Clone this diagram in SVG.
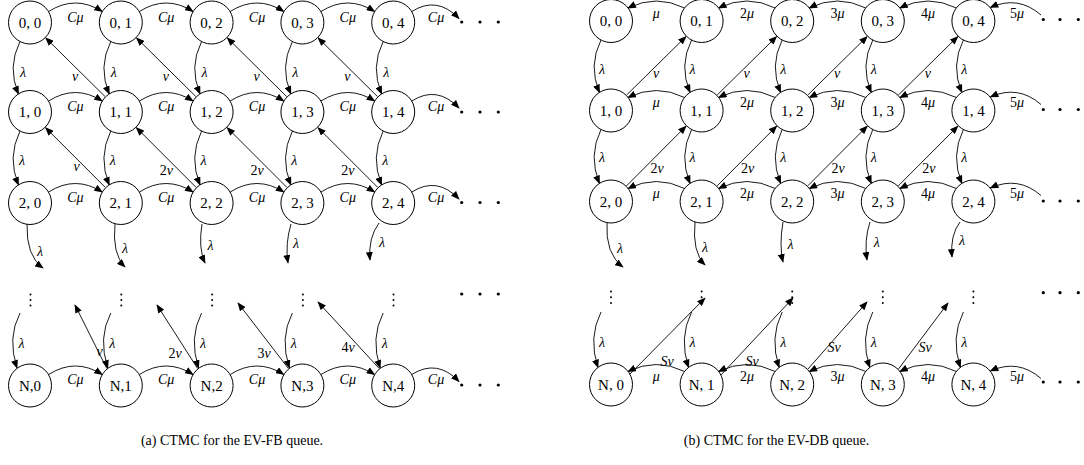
<svg xmlns="http://www.w3.org/2000/svg" width="1084" height="465" viewBox="0 0 1084 465">
<defs>
<marker id="ah" viewBox="0 0 10 8" refX="9" refY="4" markerWidth="9" markerHeight="7" markerUnits="userSpaceOnUse" orient="auto"><path d="M0,0 L10,4 L0,8 z" fill="#000"/></marker>
<style>
.n circle{fill:#fff;stroke:#000;stroke-width:1}
.n text{font-family:"Liberation Serif",serif;font-size:15px;text-anchor:middle;fill:#000}
.e path{fill:none;stroke:#000;stroke-width:0.9;marker-end:url(#ah)}
.e text{font-family:"Liberation Serif",serif;font-size:14px;font-style:italic;text-anchor:middle;fill:#000}
.e tspan.u{font-style:normal}
.dots circle{fill:#000}
.cap{font-family:"Liberation Serif",serif;font-size:14px;text-anchor:middle;fill:#000}
</style>
</defs>
<rect width="1084" height="465" fill="#fff"/>

<!-- connectors -->
<g id="connectors" class="e">
<!-- LEFT horizontal -->
<path d="M48.6,11.5 Q75.4,-5.5 102.2,11.5"/><path d="M139.4,11.5 Q166.2,-5.5 193,11.5"/><path d="M230.2,11.5 Q257,-5.5 283.8,11.5"/><path d="M321,11.5 Q347.8,-5.5 374.6,11.5"/><path d="M411.8,11.5 Q437,-4.5 459,18.5"/>
<path d="M48.6,101 Q75.4,84 102.2,101"/><path d="M139.4,101 Q166.2,84 193,101"/><path d="M230.2,101 Q257,84 283.8,101"/><path d="M321,101 Q347.8,84 374.6,101"/><path d="M411.8,101 Q437,85 459,108"/>
<path d="M48.6,192 Q75.4,175 102.2,192"/><path d="M139.4,192 Q166.2,175 193,192"/><path d="M230.2,192 Q257,175 283.8,192"/><path d="M321,192 Q347.8,175 374.6,192"/><path d="M411.8,192 Q437,176 459,199"/>
<path d="M48.6,374.5 Q75.4,357.5 102.2,374.5"/><path d="M139.4,374.5 Q166.2,357.5 193,374.5"/><path d="M230.2,374.5 Q257,357.5 283.8,374.5"/><path d="M321,374.5 Q347.8,357.5 374.6,374.5"/><path d="M411.8,374.5 Q437,358.5 459,381.5"/>
<text x="75.4" y="21.5">Cμ</text><text x="166.2" y="21.5">Cμ</text><text x="257" y="21.5">Cμ</text><text x="347.8" y="21.5">Cμ</text><text x="436" y="21.5">Cμ</text>
<text x="75.4" y="111">Cμ</text><text x="166.2" y="111">Cμ</text><text x="257" y="111">Cμ</text><text x="347.8" y="111">Cμ</text><text x="436" y="111">Cμ</text>
<text x="75.4" y="202">Cμ</text><text x="166.2" y="202">Cμ</text><text x="257" y="202">Cμ</text><text x="347.8" y="202">Cμ</text><text x="436" y="202">Cμ</text>
<text x="75.4" y="384">Cμ</text><text x="166.2" y="384">Cμ</text><text x="257" y="384">Cμ</text><text x="347.8" y="384">Cμ</text><text x="436" y="384">Cμ</text>
<!-- LEFT vertical lambda -->
<path d="M20,41.5 Q7,67.25 18.5,94"/><path d="M110.8,41.5 Q97.8,67.25 109.3,94"/><path d="M201.6,41.5 Q188.6,67.25 200.1,94"/><path d="M292.4,41.5 Q279.4,67.25 290.9,94"/><path d="M383.2,41.5 Q370.2,67.25 381.7,94"/>
<path d="M20,131 Q7,157.5 18.5,185"/><path d="M110.8,131 Q97.8,157.5 109.3,185"/><path d="M201.6,131 Q188.6,157.5 200.1,185"/><path d="M292.4,131 Q279.4,157.5 290.9,185"/><path d="M383.2,131 Q370.2,157.5 381.7,185"/>
<text x="23" y="76.5">λ</text><text x="113.8" y="76.5">λ</text><text x="204.6" y="76.5">λ</text><text x="295.4" y="76.5">λ</text><text x="386.2" y="76.5">λ</text>
<text x="22" y="165">λ</text><text x="112.8" y="165">λ</text><text x="203.6" y="165">λ</text><text x="294.4" y="165">λ</text><text x="385.2" y="165">λ</text>
<path d="M27,224 Q26,256 43,268"/><path d="M115,224 Q112,254 125,267"/><path d="M202,224 Q198,248 205,263"/><path d="M291,224 Q285,244 288,263"/><path d="M379,223 Q368,238 370,260"/>
<text x="40" y="256">λ</text><text x="125" y="253">λ</text><text x="210.5" y="250">λ</text><text x="296" y="248">λ</text><text x="382" y="246.5">λ</text>
<path d="M20,313 Q7,338 17,368"/><path d="M110.8,313 Q97.8,338 107.8,368"/><path d="M201.6,313 Q188.6,338 198.6,368"/><path d="M292.4,313 Q279.4,338 289.4,368"/><path d="M383.2,313 Q370.2,338 380.2,368"/>
<text x="21.5" y="348">λ</text><text x="112.3" y="348">λ</text><text x="203.1" y="348">λ</text><text x="293.9" y="348">λ</text><text x="384.7" y="348">λ</text>
<!-- LEFT diagonals -->
<path d="M105.1,96.6 L45.7,37.9"/><path d="M195.9,96.6 L136.5,37.9"/><path d="M286.7,96.6 L227.3,37.9"/><path d="M377.5,96.6 L318.1,37.9"/>
<text x="75" y="81">ν</text><text x="165.8" y="81">ν</text><text x="256.6" y="81">ν</text><text x="347.4" y="81">ν</text>
<path d="M105.3,187.4 L45.5,127.6"/><path d="M196.1,187.4 L136.3,127.6"/><path d="M286.9,187.4 L227.1,127.6"/><path d="M377.7,187.4 L317.9,127.6"/>
<text x="76.7" y="170.7">ν</text><text x="166.3" y="175"><tspan class="u">2</tspan>ν</text><text x="257.1" y="175"><tspan class="u">2</tspan>ν</text><text x="347.9" y="175"><tspan class="u">2</tspan>ν</text>
<path d="M106.8,368.5 L75,305"/><path d="M197.6,368.5 L157,305"/><path d="M288.4,368.5 L238,303"/><path d="M379.2,368.5 L318,302"/>
<text x="99.5" y="356">ν</text><text x="175" y="358"><tspan class="u">2</tspan>ν</text><text x="264" y="358"><tspan class="u">3</tspan>ν</text><text x="348" y="351.7"><tspan class="u">4</tspan>ν</text>

<!-- RIGHT horizontal (leftward) -->
<path d="M684.6,8 Q656.3,-6 628,8"/><path d="M775.2,8 Q746.9,-6 718.6,8"/><path d="M865.8,8 Q837.5,-6 809.2,8"/><path d="M956.4,8 Q928.1,-6 899.8,8"/><path d="M1041,15 Q1018,-5 990.4,7.5"/>
<path d="M684.6,97.5 Q656.3,83.5 628,97.5"/><path d="M775.2,97.5 Q746.9,83.5 718.6,97.5"/><path d="M865.8,97.5 Q837.5,83.5 809.2,97.5"/><path d="M956.4,97.5 Q928.1,83.5 899.8,97.5"/><path d="M1041,104.5 Q1018,84.5 990.4,97"/>
<path d="M684.6,188.5 Q656.3,174.5 628,188.5"/><path d="M775.2,188.5 Q746.9,174.5 718.6,188.5"/><path d="M865.8,188.5 Q837.5,174.5 809.2,188.5"/><path d="M956.4,188.5 Q928.1,174.5 899.8,188.5"/><path d="M1041,195.5 Q1018,175.5 990.4,188"/>
<path d="M684.6,371.5 Q656.3,357.5 628,371.5"/><path d="M775.2,371.5 Q746.9,357.5 718.6,371.5"/><path d="M865.8,371.5 Q837.5,357.5 809.2,371.5"/><path d="M956.4,371.5 Q928.1,357.5 899.8,371.5"/><path d="M1041,378.5 Q1018,358.5 990.4,371"/>
<text x="656.3" y="17.5">μ</text><text x="746.9" y="17.5"><tspan class="u">2</tspan>μ</text><text x="837.5" y="17.5"><tspan class="u">3</tspan>μ</text><text x="928.1" y="17.5"><tspan class="u">4</tspan>μ</text><text x="1017" y="17.5"><tspan class="u">5</tspan>μ</text>
<text x="656.3" y="107">μ</text><text x="746.9" y="107"><tspan class="u">2</tspan>μ</text><text x="837.5" y="107"><tspan class="u">3</tspan>μ</text><text x="928.1" y="107"><tspan class="u">4</tspan>μ</text><text x="1017" y="107"><tspan class="u">5</tspan>μ</text>
<text x="656.3" y="198">μ</text><text x="746.9" y="198"><tspan class="u">2</tspan>μ</text><text x="837.5" y="198"><tspan class="u">3</tspan>μ</text><text x="928.1" y="198"><tspan class="u">4</tspan>μ</text><text x="1017" y="198"><tspan class="u">5</tspan>μ</text>
<text x="656.3" y="381">μ</text><text x="746.9" y="381"><tspan class="u">2</tspan>μ</text><text x="837.5" y="381"><tspan class="u">3</tspan>μ</text><text x="928.1" y="381"><tspan class="u">4</tspan>μ</text><text x="1017" y="381"><tspan class="u">5</tspan>μ</text>
<!-- RIGHT vertical lambda -->
<path d="M601,40 Q588,65.75 599.5,92.5"/><path d="M691.6,40 Q678.6,65.75 690.1,92.5"/><path d="M782.2,40 Q769.2,65.75 780.7,92.5"/><path d="M872.8,40 Q859.8,65.75 871.3,92.5"/><path d="M963.4,40 Q950.4,65.75 961.9,92.5"/>
<path d="M601,129.5 Q588,156 599.5,183.5"/><path d="M691.6,129.5 Q678.6,156 690.1,183.5"/><path d="M782.2,129.5 Q769.2,156 780.7,183.5"/><path d="M872.8,129.5 Q859.8,156 871.3,183.5"/><path d="M963.4,129.5 Q950.4,156 961.9,183.5"/>
<text x="602" y="74">λ</text><text x="692.6" y="74">λ</text><text x="783.2" y="74">λ</text><text x="873.8" y="74">λ</text><text x="964.4" y="74">λ</text>
<text x="602" y="162">λ</text><text x="692.6" y="162">λ</text><text x="783.2" y="162">λ</text><text x="873.8" y="162">λ</text><text x="964.4" y="162">λ</text>
<path d="M607,222 Q605,254 623,267"/><path d="M695,222 Q692,252 705,265"/><path d="M783,222 Q779,245 783,262"/><path d="M870,222 Q864,240 867,260"/><path d="M960,222 Q950,235 952,257"/>
<text x="620" y="253">λ</text><text x="705" y="251.7">λ</text><text x="790.5" y="249">λ</text><text x="876.7" y="247">λ</text><text x="962" y="245">λ</text>
<path d="M601,312 Q588,338 598,367.5"/><path d="M691.6,312 Q678.6,338 688.6,367.5"/><path d="M782.2,312 Q769.2,338 779.2,367.5"/><path d="M872.8,312 Q859.8,338 869.8,367.5"/><path d="M963.4,312 Q950.4,338 960.4,367.5"/>
<text x="602" y="347">λ</text><text x="692.6" y="347">λ</text><text x="783.2" y="347">λ</text><text x="873.8" y="347">λ</text><text x="964.4" y="347">λ</text>
<!-- RIGHT diagonals -->
<path d="M626.6,95 L686,36.5"/><path d="M717.2,95 L776.6,36.5"/><path d="M807.8,95 L867.2,36.5"/><path d="M898.4,95 L957.8,36.5"/>
<text x="656" y="78">ν</text><text x="746.6" y="78">ν</text><text x="837.2" y="78">ν</text><text x="927.8" y="78">ν</text>
<path d="M626.5,185.9 L686.1,126.1"/><path d="M717.1,185.9 L776.7,126.1"/><path d="M807.7,185.9 L867.3,126.1"/><path d="M898.3,185.9 L957.9,126.1"/>
<text x="657" y="173"><tspan class="u">2</tspan>ν</text><text x="747.6" y="173"><tspan class="u">2</tspan>ν</text><text x="838.2" y="173"><tspan class="u">2</tspan>ν</text><text x="928.8" y="173"><tspan class="u">2</tspan>ν</text>
<path d="M628,376 L705,298"/><path d="M720,376 L793,298"/><path d="M808,369 L867,302"/><path d="M898.5,369 L948,303"/>
<text x="667" y="366">Sν</text><text x="752" y="366">Sν</text><text x="834" y="352">Sν</text><text x="925" y="352">Sν</text>
</g>

<!-- ellipsis dots -->
<g id="dots" class="dots">
<circle cx="461.7" cy="22" r="1.6"/><circle cx="480" cy="22" r="1.6"/><circle cx="498.3" cy="22" r="1.6"/>
<circle cx="461.7" cy="112" r="1.6"/><circle cx="480" cy="112" r="1.6"/><circle cx="498.3" cy="112" r="1.6"/>
<circle cx="461.7" cy="202.5" r="1.6"/><circle cx="480" cy="202.5" r="1.6"/><circle cx="498.3" cy="202.5" r="1.6"/>
<circle cx="461.7" cy="294" r="1.6"/><circle cx="480" cy="294" r="1.6"/><circle cx="498.3" cy="294" r="1.6"/>
<circle cx="461.7" cy="385" r="1.6"/><circle cx="480" cy="385" r="1.6"/><circle cx="498.3" cy="385" r="1.6"/>
<circle cx="30.5" cy="294.5" r="1"/><circle cx="30.5" cy="300" r="1"/><circle cx="30.5" cy="305.5" r="1"/>
<circle cx="121.3" cy="294.5" r="1"/><circle cx="121.3" cy="300" r="1"/><circle cx="121.3" cy="305.5" r="1"/>
<circle cx="212.1" cy="294.5" r="1"/><circle cx="212.1" cy="300" r="1"/><circle cx="212.1" cy="305.5" r="1"/>
<circle cx="302.9" cy="294.5" r="1"/><circle cx="302.9" cy="300" r="1"/><circle cx="302.9" cy="305.5" r="1"/>
<circle cx="393.5" cy="294.5" r="1"/><circle cx="393.5" cy="300" r="1"/><circle cx="393.5" cy="305.5" r="1"/>
<circle cx="1043.3" cy="19.5" r="1.6"/><circle cx="1060" cy="19.5" r="1.6"/><circle cx="1078.3" cy="19.5" r="1.6"/>
<circle cx="1043.3" cy="109.5" r="1.6"/><circle cx="1060" cy="109.5" r="1.6"/><circle cx="1078.3" cy="109.5" r="1.6"/>
<circle cx="1043.3" cy="201" r="1.6"/><circle cx="1060" cy="201" r="1.6"/><circle cx="1078.3" cy="201" r="1.6"/>
<circle cx="1043.3" cy="292.7" r="1.6"/><circle cx="1060" cy="292.7" r="1.6"/><circle cx="1078.3" cy="292.7" r="1.6"/>
<circle cx="1043.3" cy="382" r="1.6"/><circle cx="1060" cy="382" r="1.6"/><circle cx="1078.3" cy="382" r="1.6"/>
<circle cx="611" cy="291.5" r="1"/><circle cx="611" cy="297.3" r="1"/><circle cx="611" cy="303" r="1"/>
<circle cx="701.6" cy="291.5" r="1"/><circle cx="701.6" cy="297.3" r="1"/><circle cx="701.6" cy="303" r="1"/>
<circle cx="792.2" cy="291.5" r="1"/><circle cx="792.2" cy="297.3" r="1"/><circle cx="792.2" cy="303" r="1"/>
<circle cx="882.8" cy="291.5" r="1"/><circle cx="882.8" cy="297.3" r="1"/><circle cx="882.8" cy="303" r="1"/>
<circle cx="973.4" cy="291.5" r="1"/><circle cx="973.4" cy="297.3" r="1"/><circle cx="973.4" cy="303" r="1"/>
</g>

<!-- LEFT nodes -->
<g id="a-0-0" class="n"><circle cx="30" cy="22.5" r="21.5"/><text x="30" y="27.5">0, 0</text></g>
<g id="a-0-1" class="n"><circle cx="120.8" cy="22.5" r="21.5"/><text x="120.8" y="27.5">0, 1</text></g>
<g id="a-0-2" class="n"><circle cx="211.6" cy="22.5" r="21.5"/><text x="211.6" y="27.5">0, 2</text></g>
<g id="a-0-3" class="n"><circle cx="302.4" cy="22.5" r="21.5"/><text x="302.4" y="27.5">0, 3</text></g>
<g id="a-0-4" class="n"><circle cx="393.2" cy="22.5" r="21.5"/><text x="393.2" y="27.5">0, 4</text></g>
<g id="a-1-0" class="n"><circle cx="30" cy="112" r="21.5"/><text x="30" y="117">1, 0</text></g>
<g id="a-1-1" class="n"><circle cx="120.8" cy="112" r="21.5"/><text x="120.8" y="117">1, 1</text></g>
<g id="a-1-2" class="n"><circle cx="211.6" cy="112" r="21.5"/><text x="211.6" y="117">1, 2</text></g>
<g id="a-1-3" class="n"><circle cx="302.4" cy="112" r="21.5"/><text x="302.4" y="117">1, 3</text></g>
<g id="a-1-4" class="n"><circle cx="393.2" cy="112" r="21.5"/><text x="393.2" y="117">1, 4</text></g>
<g id="a-2-0" class="n"><circle cx="30" cy="203" r="21.5"/><text x="30" y="208">2, 0</text></g>
<g id="a-2-1" class="n"><circle cx="120.8" cy="203" r="21.5"/><text x="120.8" y="208">2, 1</text></g>
<g id="a-2-2" class="n"><circle cx="211.6" cy="203" r="21.5"/><text x="211.6" y="208">2, 2</text></g>
<g id="a-2-3" class="n"><circle cx="302.4" cy="203" r="21.5"/><text x="302.4" y="208">2, 3</text></g>
<g id="a-2-4" class="n"><circle cx="393.2" cy="203" r="21.5"/><text x="393.2" y="208">2, 4</text></g>
<g id="a-N-0" class="n"><circle cx="30" cy="385.5" r="21.5"/><text x="30" y="390.5">N,0</text></g>
<g id="a-N-1" class="n"><circle cx="120.8" cy="385.5" r="21.5"/><text x="120.8" y="390.5">N,1</text></g>
<g id="a-N-2" class="n"><circle cx="211.6" cy="385.5" r="21.5"/><text x="211.6" y="390.5">N,2</text></g>
<g id="a-N-3" class="n"><circle cx="302.4" cy="385.5" r="21.5"/><text x="302.4" y="390.5">N,3</text></g>
<g id="a-N-4" class="n"><circle cx="393.2" cy="385.5" r="21.5"/><text x="393.2" y="390.5">N,4</text></g>

<!-- RIGHT nodes -->
<g id="b-0-0" class="n"><circle cx="611" cy="21" r="21.5"/><text x="611" y="26">0, 0</text></g>
<g id="b-0-1" class="n"><circle cx="701.6" cy="21" r="21.5"/><text x="701.6" y="26">0, 1</text></g>
<g id="b-0-2" class="n"><circle cx="792.2" cy="21" r="21.5"/><text x="792.2" y="26">0, 2</text></g>
<g id="b-0-3" class="n"><circle cx="882.8" cy="21" r="21.5"/><text x="882.8" y="26">0, 3</text></g>
<g id="b-0-4" class="n"><circle cx="973.4" cy="21" r="21.5"/><text x="973.4" y="26">0, 4</text></g>
<g id="b-1-0" class="n"><circle cx="611" cy="110.5" r="21.5"/><text x="611" y="115.5">1, 0</text></g>
<g id="b-1-1" class="n"><circle cx="701.6" cy="110.5" r="21.5"/><text x="701.6" y="115.5">1, 1</text></g>
<g id="b-1-2" class="n"><circle cx="792.2" cy="110.5" r="21.5"/><text x="792.2" y="115.5">1, 2</text></g>
<g id="b-1-3" class="n"><circle cx="882.8" cy="110.5" r="21.5"/><text x="882.8" y="115.5">1, 3</text></g>
<g id="b-1-4" class="n"><circle cx="973.4" cy="110.5" r="21.5"/><text x="973.4" y="115.5">1, 4</text></g>
<g id="b-2-0" class="n"><circle cx="611" cy="201.5" r="21.5"/><text x="611" y="206.5">2, 0</text></g>
<g id="b-2-1" class="n"><circle cx="701.6" cy="201.5" r="21.5"/><text x="701.6" y="206.5">2, 1</text></g>
<g id="b-2-2" class="n"><circle cx="792.2" cy="201.5" r="21.5"/><text x="792.2" y="206.5">2, 2</text></g>
<g id="b-2-3" class="n"><circle cx="882.8" cy="201.5" r="21.5"/><text x="882.8" y="206.5">2, 3</text></g>
<g id="b-2-4" class="n"><circle cx="973.4" cy="201.5" r="21.5"/><text x="973.4" y="206.5">2, 4</text></g>
<g id="b-N-0" class="n"><circle cx="611" cy="384.5" r="21.5"/><text x="611" y="389.5">N, 0</text></g>
<g id="b-N-1" class="n"><circle cx="701.6" cy="384.5" r="21.5"/><text x="701.6" y="389.5">N, 1</text></g>
<g id="b-N-2" class="n"><circle cx="792.2" cy="384.5" r="21.5"/><text x="792.2" y="389.5">N, 2</text></g>
<g id="b-N-3" class="n"><circle cx="882.8" cy="384.5" r="21.5"/><text x="882.8" y="389.5">N, 3</text></g>
<g id="b-N-4" class="n"><circle cx="973.4" cy="384.5" r="21.5"/><text x="973.4" y="389.5">N, 4</text></g>

<!-- captions -->
<text class="cap" x="232" y="445">(a) CTMC for the EV-FB queue.</text>
<text class="cap" x="776.5" y="445">(b) CTMC for the EV-DB queue.</text>
</svg>
